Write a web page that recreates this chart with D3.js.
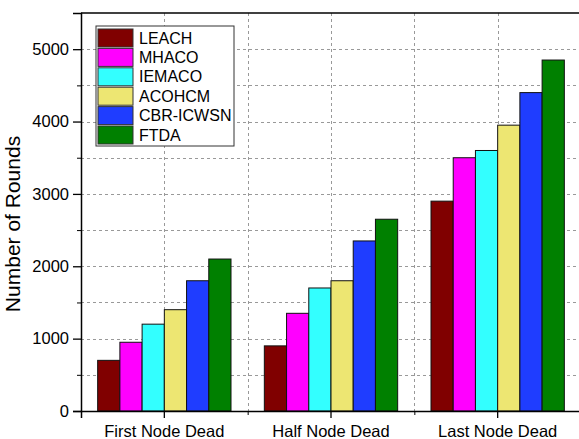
<!DOCTYPE html>
<html lang="en">
<head>
<meta charset="UTF-8">
<title>Number of Rounds</title>
<script src="https://d3js.org/d3.v7.min.js"></script>
<style>
  body { margin: 0; background: #fff; }
  text { font-family: Arial, "Liberation Sans", sans-serif; fill: #000; }
</style>
</head>
<body>
<div id="chart"></div>
<script>
// data
const categories = ["First Node Dead", "Half Node Dead", "Last Node Dead"];
const seriesNames = ["LEACH", "MHACO", "IEMACO", "ACOHCM", "CBR-ICWSN", "FTDA"];
const seriesColors = ["#800000", "#ff00ff", "#33ffff", "#ede672", "#1f3dff", "#008000"];
const LEACH = [700, 900, 2900];
const MHACO = [950, 1350, 3500];
const IEMACO = [1200, 1700, 3600];
const ACOHCM = [1400, 1800, 3950];
const CBR_ICWSN = [1800, 2350, 4400];
const FTDA = [2100, 2650, 4850];
const yTicks = [0, 1000, 2000, 3000, 4000, 5000];

const values = [LEACH, MHACO, IEMACO, ACOHCM, CBR_ICWSN, FTDA];

const W = 579, H = 439;
const m = { left: 81, top: 13, right: -2, bottom: 28 };

const svg = d3.select("#chart").append("svg")
    .attr("width", W).attr("height", H);

const x = d3.scaleBand().domain(categories)
    .range([m.left, W - m.right]).paddingInner(0).paddingOuter(0);
// bars take 80% of each category
const inner = x.bandwidth() * 0.8;
const xsub = d3.scaleBand().domain(seriesNames)
    .range([(x.bandwidth() - inner) / 2, (x.bandwidth() + inner) / 2]);

const y = d3.scaleLinear().domain([0, 5500]).range([H - m.bottom, m.top]);

// grid
const grid = svg.append("g");
d3.range(500, 5500, 500).forEach(v => {
  grid.append("line")
    .attr("x1", m.left).attr("x2", W)
    .attr("y1", Math.round(y(v)) + 0.5).attr("y2", Math.round(y(v)) + 0.5)
    .attr("stroke", "#999").attr("stroke-dasharray", "3,3");
});
const vx = categories.slice(1).map(c => x(c))
    .concat(categories.map(c => x(c) + x.bandwidth() / 2));
vx.forEach(v => {
  const gx = Math.round(v) + 0.5;
  grid.append("line")
    .attr("x1", gx).attr("x2", gx)
    .attr("y1", m.top).attr("y2", y(0))
    .attr("stroke", "#999").attr("stroke-dasharray", "3,3");
});

// bars
const groups = svg.append("g").selectAll("g")
    .data(categories).join("g")
    .attr("transform", d => `translate(${x(d)},0)`);
groups.selectAll("rect")
    .data((c, ci) => seriesNames.map((s, si) => ({ s, si, v: values[si][ci] })))
    .join("rect")
    .attr("x", d => xsub(d.s))
    .attr("width", xsub.bandwidth())
    .attr("y", d => y(d.v))
    .attr("height", d => y(0) - y(d.v))
    .attr("fill", d => seriesColors[d.si])
    .attr("stroke", "#111").attr("stroke-width", 1);

// axes
const yAxis = d3.axisLeft(y).tickValues(yTicks).tickSize(8).tickPadding(4).tickFormat(d3.format("d"));
const gy = svg.append("g").attr("transform", `translate(${m.left},0)`).call(yAxis);
gy.select(".domain").attr("stroke", "#000").attr("stroke-width", 1.5);
gy.selectAll("text").attr("font-size", 16.5);
gy.selectAll(".tick line").attr("stroke-width", 1.3);
svg.append("g").attr("transform", `translate(${m.left},0)`)
  .call(d3.axisLeft(y).tickValues(d3.range(500, 5500, 1000)).tickSize(4).tickFormat(""))
  .select(".domain").remove();

const xAxis = d3.axisBottom(x).tickSize(7).tickPadding(7);
const gx = svg.append("g").attr("transform", `translate(0,${y(0)})`).call(xAxis);
gx.select(".domain").attr("stroke", "#000").attr("stroke-width", 1.5);
gx.selectAll("text").attr("font-size", 16.5);
gx.selectAll(".tick line").attr("stroke-width", 1.3);
const minorX = categories.map(c => x(c));
svg.append("g").attr("transform", `translate(0,${y(0)})`)
  .call(d3.axisBottom(d3.scaleOrdinal().domain(minorX).range(minorX)).tickSize(4).tickFormat(""))
  .select(".domain").remove();

// top frame
svg.append("line").attr("x1", m.left).attr("x2", W)
  .attr("y1", m.top).attr("y2", m.top).attr("stroke", "#000").attr("stroke-width", 1.5);

// y label
svg.append("text")
  .attr("transform", `translate(20,${(m.top + y(0)) / 2 + 12}) rotate(-90)`)
  .attr("text-anchor", "middle").attr("font-size", 21)
  .text("Number of Rounds");

// legend
const lg = svg.append("g").attr("transform", "translate(96,26)");
lg.append("rect").attr("width", 138).attr("height", 120)
  .attr("fill", "#fff").attr("stroke", "#333").attr("stroke-width", 1);
seriesNames.forEach((s, i) => {
  const row = lg.append("g").attr("transform", `translate(2,${3 + i * 19.4})`);
  row.append("rect").attr("width", 35).attr("height", 18)
    .attr("fill", seriesColors[i]).attr("stroke", "#333").attr("stroke-width", 1);
  row.append("text").attr("x", 41).attr("y", 14.5).attr("font-size", 16).text(s);
});
</script>
</body>
</html>
